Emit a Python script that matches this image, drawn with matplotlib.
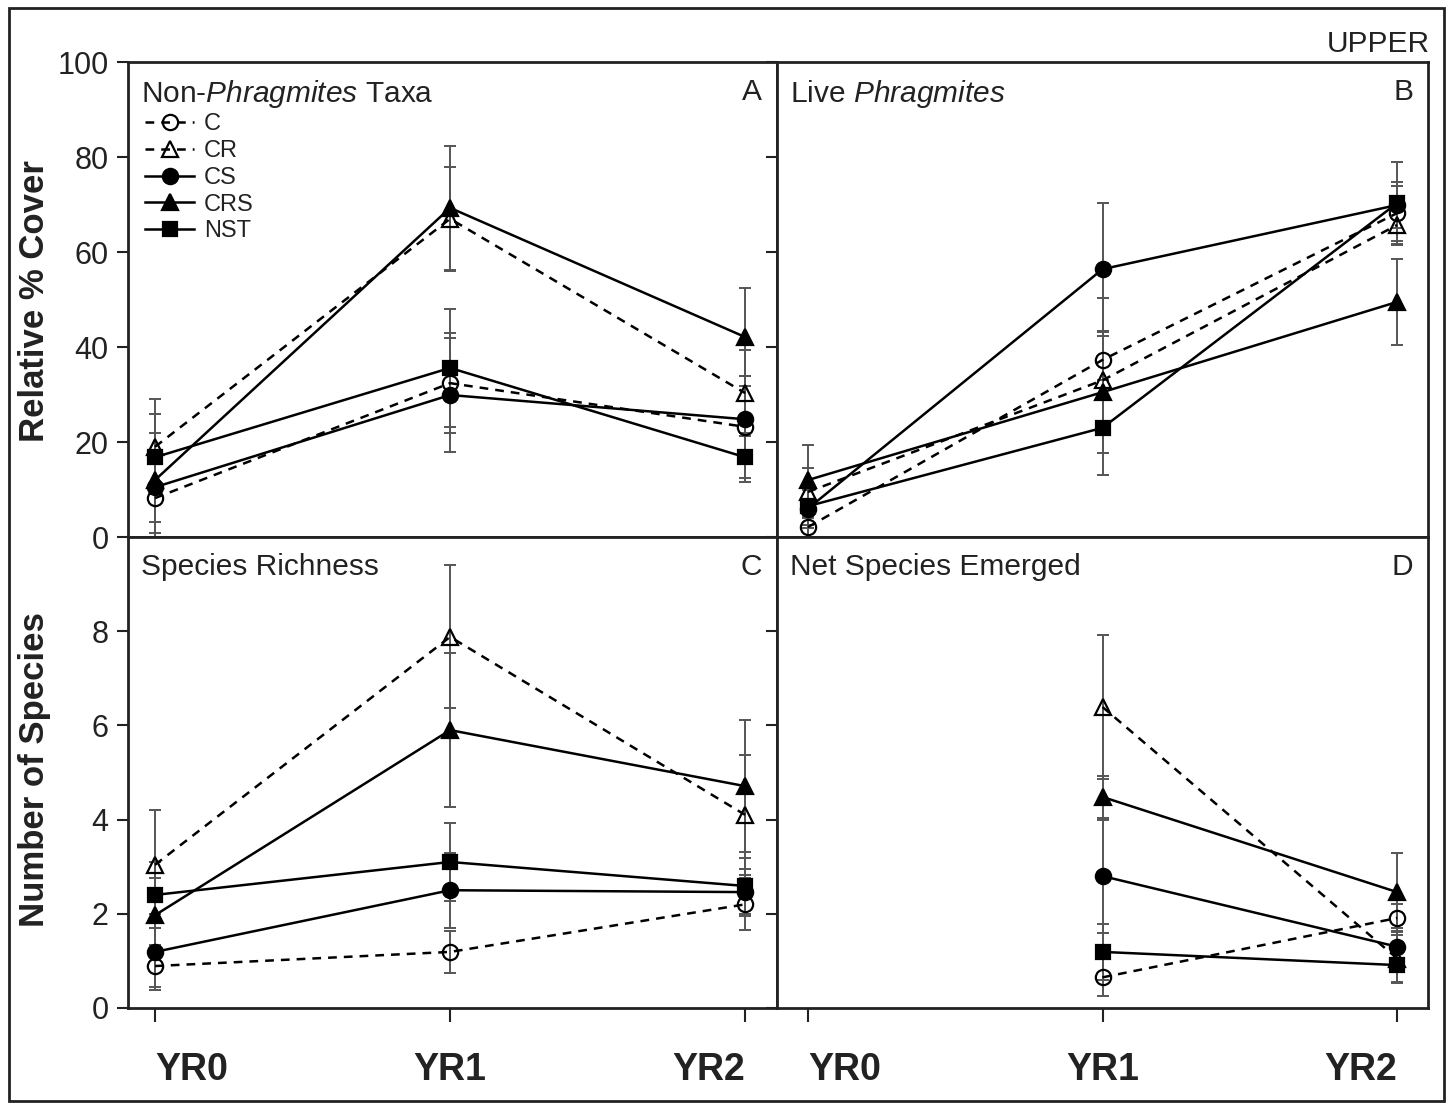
#!/usr/bin/env python3

import numpy as np
import matplotlib
matplotlib.use('Agg')
import matplotlib.pyplot as plt
from matplotlib.patches import Rectangle

years = ['YR0', 'YR1', 'YR2']
treatments = ['C', 'CR', 'CS', 'CRS', 'NST']

# rows follow treatments, columns follow years
nonphrag_mean = [[8.2, 32.4, 23.2],
                 [19.0, 67.0, 30.3],
                 [10.5, 29.9, 24.8],
                 [12.0, 69.3, 42.1],
                 [16.8, 35.6, 16.8]]
nonphrag_se = [[7.4, 10.5, 10.8],
               [10.0, 11.0, 9.0],
               [7.3, 12.0, 9.0],
               [14.0, 13.0, 10.3],
               [5.2, 12.4, 5.2]]

phrag_mean = [[2.1, 37.3, 68.2],
              [9.5, 33.0, 65.7],
              [6.0, 56.4, 69.9],
              [12.0, 30.5, 49.5],
              [6.5, 23.0, 70.3]]
phrag_se = [[2.0, 13.0, 5.8],
            [5.0, 10.2, 4.2],
            [4.0, 14.0, 4.8],
            [7.4, 12.8, 9.1],
            [4.0, 10.0, 8.7]]

richness_mean = [[0.89, 1.19, 2.20],
                 [3.04, 7.88, 4.10],
                 [1.19, 2.50, 2.46],
                 [1.97, 5.90, 4.71],
                 [2.40, 3.10, 2.59]]
richness_se = [[0.45, 0.45, 0.55],
               [1.16, 1.52, 1.27],
               [0.80, 0.80, 0.50],
               [0.80, 1.63, 1.40],
               [0.70, 0.83, 0.60]]

emerged_mean = [[np.nan, 0.65, 1.91],
                [np.nan, 6.39, 1.05],
                [np.nan, 2.80, 1.30],
                [np.nan, 4.48, 2.46],
                [np.nan, 1.19, 0.91]]
emerged_se = [[np.nan, 0.40, 0.30],
              [np.nan, 1.53, 0.50],
              [np.nan, 1.20, 0.40],
              [np.nan, 0.45, 0.83],
              [np.nan, 0.60, 0.38]]

markers = ['o', '^', 'o', '^', 's']
faces = ['none', 'none', 'black', 'black', 'black']
styles = [(0, (3.5, 2.8)), (0, (3.5, 2.8)), '-', '-', '-']

plt.rcParams['font.family'] = ['Liberation Sans', 'DejaVu Sans']
plt.rcParams['mathtext.fontset'] = 'custom'
plt.rcParams['mathtext.rm'] = 'Liberation Sans'
plt.rcParams['mathtext.it'] = 'Liberation Sans:italic'

INK = '#222222'


def draw_panel(ax, means, ses, title, letter, ylim, yticks):
    x = np.arange(len(years))
    for i, name in enumerate(treatments):
        ax.errorbar(x, means[i], yerr=ses[i], fmt='none', ecolor='#555555',
                    elinewidth=1.4, capsize=4.5, capthick=1.4, zorder=2)
        ax.plot(x, means[i], linestyle=styles[i], color='black', lw=1.8,
                marker=markers[i], markersize=11 if markers[i] != 's' else 10,
                markerfacecolor=faces[i], markeredgecolor='black',
                markeredgewidth=1.6, label=name, zorder=3)
    ax.set_ylim(ylim)
    ax.set_yticks(yticks)
    ax.set_xticks(x)
    for s in ax.spines.values():
        s.set_linewidth(2.0)
        s.set_color(INK)
    ax.tick_params(direction='out', length=8, width=1.5, color=INK,
                   labelsize=22, labelcolor=INK, pad=6)
    ax.text(0.02, 0.967, title, transform=ax.transAxes, ha='left', va='top',
            fontsize=21.5, color=INK)
    ax.text(0.977, 0.967, letter, transform=ax.transAxes, ha='right',
            va='top', fontsize=21.5, color=INK)


fig = plt.figure(figsize=(14.5, 11.08), dpi=100)
ax_a = fig.add_axes([0.0883, 0.5153, 0.4476, 0.4287])
ax_b = fig.add_axes([0.5359, 0.5153, 0.4490, 0.4287])
ax_c = fig.add_axes([0.0883, 0.0903, 0.4476, 0.4250])
ax_d = fig.add_axes([0.5359, 0.0903, 0.4490, 0.4250])

draw_panel(ax_a, nonphrag_mean, nonphrag_se,
           'Non-$\\it{Phragmites}$ Taxa', 'A', (0, 100), range(0, 101, 20))
draw_panel(ax_b, phrag_mean, phrag_se,
           'Live $\\it{Phragmites}$', 'B', (0, 100), range(0, 101, 20))
draw_panel(ax_c, richness_mean, richness_se,
           'Species Richness', 'C', (0, 10), range(0, 9, 2))
draw_panel(ax_d, emerged_mean, emerged_se,
           'Net Species Emerged', 'D', (0, 10), range(0, 9, 2))

for ax in (ax_a, ax_c):
    ax.set_xlim(-0.0915, 2.108)
for ax in (ax_b, ax_d):
    ax.set_xlim(-0.105, 2.105)
    ax.tick_params(axis='y', labelleft=False)
for ax in (ax_a, ax_b):
    ax.tick_params(axis='x', length=0, labelbottom=False)
for ax in (ax_c, ax_d):
    ax.set_xticklabels(years, fontsize=27, fontweight='bold', color=INK)
    ax.tick_params(axis='x', length=10, pad=22)
    labels = ax.get_xticklabels()
    for lab, ha in zip(labels, ['left', 'center', 'right']):
        lab.set_ha(ha)

ax_a.legend(loc='upper left', bbox_to_anchor=(0.026, 0.892), frameon=False,
            fontsize=17, borderpad=0, borderaxespad=0, labelspacing=0.2,
            handlelength=2.1, handletextpad=0.4, labelcolor=INK)

fig.text(0.024, 0.728, 'Relative % Cover', rotation=90, ha='center',
         va='center', fontsize=25, fontweight='bold', color=INK)
fig.text(0.024, 0.305, 'Number of Species', rotation=90, ha='center',
         va='center', fontsize=25, fontweight='bold', color=INK)
fig.text(0.986, 0.948, 'UPPER', ha='right', va='bottom', fontsize=21.5,
         color=INK)

fig.patches.append(Rectangle((0.006, 0.006), 0.99, 0.987,
                             transform=fig.transFigure, fill=False,
                             lw=2.0, ec=INK))

plt.savefig('out.png', dpi=100)
